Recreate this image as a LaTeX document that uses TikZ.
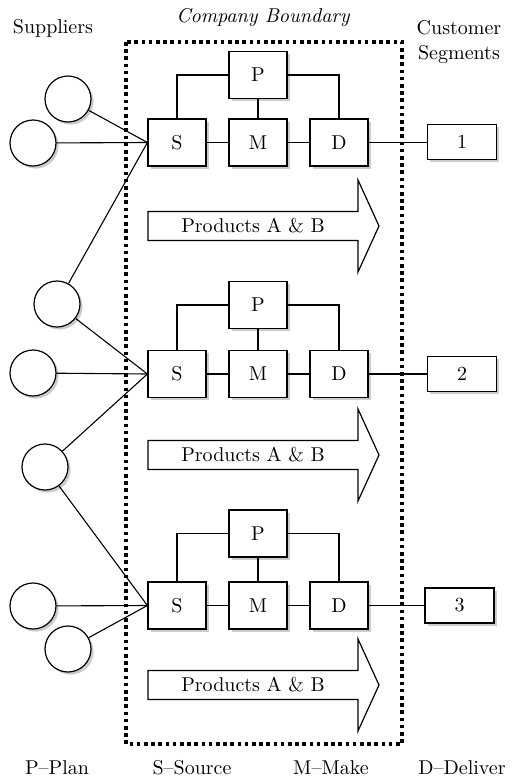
\documentclass[tikz,border=0pt]{standalone}
\usetikzlibrary{shadows}

\tikzset{
  soft shadow/.style={drop shadow={shadow xshift=1.3pt, shadow yshift=-1.3pt, opacity=0.2, fill=black}},
  block/.style={draw, line width=0.6pt, fill=white, inner sep=0pt, minimum width=29pt, minimum height=23.5pt, soft shadow},
  custbox/.style={draw, line width=0.6pt, fill=white, inner sep=0pt, minimum width=34.5pt, minimum height=17.5pt, soft shadow},
  supplier/.style={draw, line width=0.6pt, fill=white, circle, inner sep=0pt, minimum size=23pt, soft shadow},
  flow/.style={draw, line width=0.6pt, fill=white},
  link/.style={line width=0.55pt},
}

\begin{document}
\begin{tikzpicture}[%
      x=0.5pt, y=-0.5pt,
      ]
      \useasboundingbox (0,0) rectangle (526,783);

      % company boundary
      \draw [line width=1.8pt, dash pattern=on 1.8pt off 1.8pt] (126,42) rectangle (402,744);

      \node at (263,17) {\itshape Company Boundary};
      \node at (53,28) {Suppliers};
      \node at (459,28) {Customer};
      \node at (459,55) {Segments};

      % product flows
      \draw [flow] (148,211.5) -- (358,211.5) -- (358,180) -- (379,226) -- (358,272)
                -- (358,240.5) -- (148,240.5) -- cycle;
      \node (prod1) at (253,226) {Products A \& B};
      \draw [flow] (148,440.5) -- (358,440.5) -- (358,409) -- (379,455) -- (358,501)
                -- (358,469.5) -- (148,469.5) -- cycle;
      \node (prod2) at (253,455) {Products A \& B};
      \draw [flow] (148,670.5) -- (358,670.5) -- (358,639) -- (379,685) -- (358,731)
                -- (358,699.5) -- (148,699.5) -- cycle;
      \node (prod3) at (253,685) {Products A \& B};

      % row 1
      \node [block] (p1) at (258,75) {P};
      \node [block] (s1) at (177,142.5) {S};
      \node [block] (m1) at (258,142.5) {M};
      \node [block] (d1) at (339,142.5) {D};
      \node [custbox] (seg1) at (462,142) {1};

      % row 2
      \node [block] (p2) at (258,305) {P};
      \node [block] (s2) at (177,374) {S};
      \node [block] (m2) at (258,374) {M};
      \node [block] (d2) at (339,374) {D};
      \node [custbox] (seg2) at (462,374) {2};

      % row 3
      \node [block] (p3) at (258,533.5) {P};
      \node [block] (s3) at (177,605.5) {S};
      \node [block] (m3) at (258,605.5) {M};
      \node [block] (d3) at (339,605.5) {D};
      \node [custbox] (seg3) at (459.5,605.5) {3};

      % suppliers
      \node [supplier] (supa) at (68,99) {};
      \node [supplier] (supb) at (33,143) {};
      \node [supplier] (supc) at (57,304) {};
      \node [supplier] (supd) at (33,373) {};
      \node [supplier] (supe) at (45,467) {};
      \node [supplier] (supf) at (33,606) {};
      \node [supplier] (supg) at (68,649) {};

      % links
      \draw [link] (p1.west) -| (s1.north);
      \draw [link] (p1.east) -| (d1.north);
      \draw [link] (p1) -- (m1);
      \draw [link] (s1) -- (m1);
      \draw [link] (m1) -- (d1);
      \draw [link] (d1) -- (d1 -| seg1.west);

      \draw [link] (p2.west) -| (s2.north);
      \draw [link] (p2.east) -| (d2.north);
      \draw [link] (p2) -- (m2);
      \draw [link] (s2) -- (m2);
      \draw [link] (m2) -- (d2);
      \draw [link] (d2) -- (seg2);

      \draw [link] (p3.west) -| (s3.north);
      \draw [link] (p3.east) -| (d3.north);
      \draw [link] (p3) -- (m3);
      \draw [link] (s3) -- (m3);
      \draw [link] (m3) -- (d3);
      \draw [link] (d3) -- (seg3);

      \draw [link] (supa) -- (s1.west);
      \draw [link] (supb) -- (s1.west);
      \draw [link] (supc) -- (s1.west);
      \draw [link] (supc) -- (s2.west);
      \draw [link] (supd) -- (s2.west);
      \draw [link] (supe) -- (s2.west);
      \draw [link] (supe) -- (s3.west);
      \draw [link] (supf) -- (s3.west);
      \draw [link] (supg) -- (s3.west);

      \node (keyp) at (57,768) {P--Plan};
      \node (keys) at (192,768) {S--Source};
      \node (keym) at (331,768) {M--Make};
      \node (keyd) at (462,768) {D--Deliver};
      \end{tikzpicture}
\end{document}
